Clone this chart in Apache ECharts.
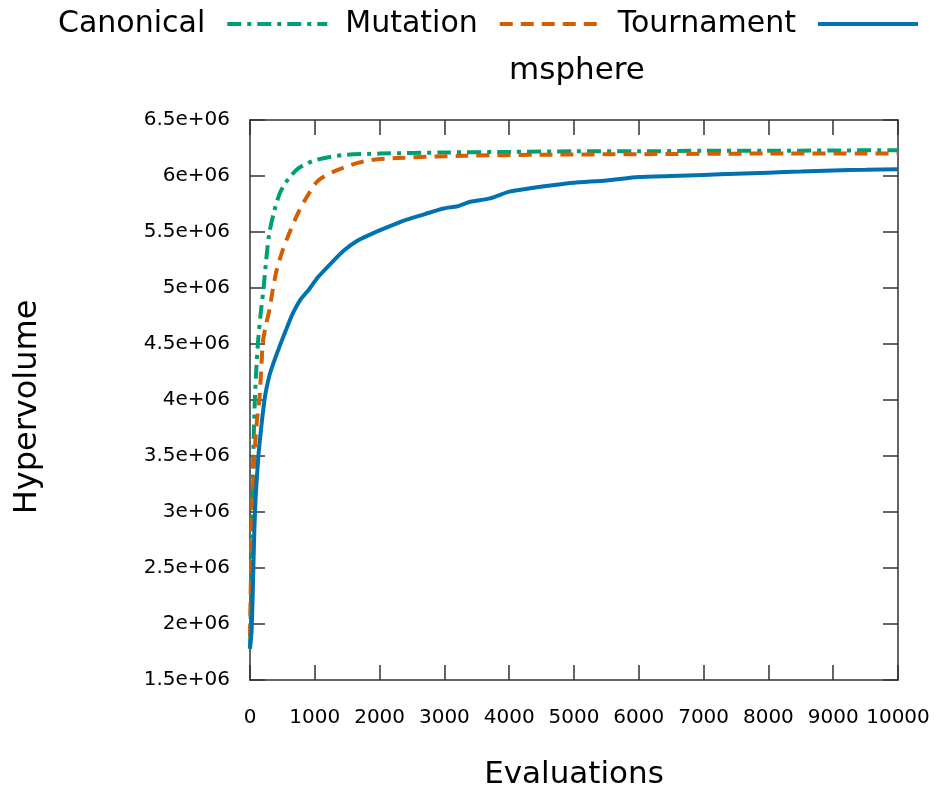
<!DOCTYPE html>
<html>
<head>
<meta charset="utf-8">
<script src="https://cdn.jsdelivr.net/npm/echarts@6/dist/echarts.min.js"></script>
<style>
html,body{margin:0;padding:0;background:#fff;}
#chart{width:937px;height:788px;}
</style>
</head>
<body>
<div id="chart"></div>
<script>
// ---- data ----
const seriesNames = ['Canonical', 'Mutation', 'Tournament'];
const chartTitle = 'msphere';
const xTickValues = [0,1000,2000,3000,4000,5000,6000,7000,8000,9000,10000];
const yTickValues = [1.5e6,2e6,2.5e6,3e6,3.5e6,4e6,4.5e6,5e6,5.5e6,6e6,6.5e6];
const yTickLabels = ['1.5e+06','2e+06','2.5e+06','3e+06','3.5e+06','4e+06','4.5e+06','5e+06','5.5e+06','6e+06','6.5e+06'];

const canonicalEvals = [0,25,40,50,75,100,128,170,206,250,298,380,463,550,643,750,875,1000,1235,1500,2006,3000,4000,5000,6000,7000,8000,9000,10000];
const canonicalHV = [1.78e6,2.48e6,2.99e6,3.49e6,4.0e6,4.3e6,4.55e6,4.8e6,4.98e6,5.25e6,5.49e6,5.7e6,5.85e6,5.94e6,6.01e6,6.07e6,6.11e6,6.14e6,6.17e6,6.19e6,6.2e6,6.21e6,6.215e6,6.22e6,6.22e6,6.225e6,6.225e6,6.228e6,6.23e6];

const mutationEvals = [0,20,41,67,103,144,170,200,250,298,350,412,500,607,750,885,1054,1337,1749,2263,3292,4500,6000,8000,10000];
const mutationHV = [1.89e6,2.6e6,3.14e6,3.49e6,3.79e6,4.0e6,4.24e6,4.52e6,4.68e6,4.8e6,4.98e6,5.16e6,5.33e6,5.49e6,5.68e6,5.82e6,5.96e6,6.05e6,6.13e6,6.16e6,6.18e6,6.19e6,6.195e6,6.2e6,6.2e6];

const tournamentEvals = [0,26,51,67,88,128,180,231,300,350,412,490,566,650,772,900,1054,1250,1440,1650,1903,2150,2418,2700,2984,3200,3400,3704,4000,4321,4700,5000,5500,6000,6500,7000,7500,8000,8500,9000,9500,10000];
const tournamentHV = [1.78e6,1.95e6,2.48e6,2.84e6,3.14e6,3.49e6,3.79e6,4.03e6,4.22e6,4.31e6,4.41e6,4.53e6,4.64e6,4.76e6,4.89e6,4.98e6,5.1e6,5.22e6,5.33e6,5.42e6,5.49e6,5.55e6,5.61e6,5.66e6,5.71e6,5.73e6,5.77e6,5.8e6,5.86e6,5.89e6,5.92e6,5.94e6,5.96e6,5.99e6,6.0e6,6.01e6,6.02e6,6.03e6,6.04e6,6.05e6,6.055e6,6.06e6];

// ---- chart ----
const FONT = 'DejaVu Sans';
const frameColor = '#333';
const pair = (xs, ys) => xs.map((x, i) => [x, ys[i]]);

const chart = echarts.init(document.getElementById('chart'), null, {renderer: 'canvas'});

const axisCommon = {
  axisLine: {show: true, onZero: false, lineStyle: {color: frameColor, width: 1.5}},
  axisTick: {show: true, inside: true, length: 15, lineStyle: {color: frameColor, width: 1.5}},
  splitLine: {show: false}
};

const option = {
  animation: false,
  backgroundColor: '#fff',
  title: {
    text: chartTitle,
    left: 572,
    top: 50,
    textAlign: 'center',
    textStyle: {fontFamily: FONT, fontSize: 31, fontWeight: 'normal', color: '#000'}
  },
  legend: {
    data: seriesNames,
    left: 58,
    top: 9,
    width: 1400,
    padding: 0,
    align: 'right',
    itemWidth: 100,
    itemHeight: 14,
    itemGap: 16,
    itemStyle: {color: 'transparent', borderWidth: 0, opacity: 0},
    lineStyle: {width: 4},
    textStyle: {fontFamily: FONT, fontSize: 30, color: '#000', padding: [0, 17, 0, 0]}
  },
  grid: {left: 250, right: 39, top: 120, bottom: 108, containLabel: false, outerBoundsMode: 'none'},
  xAxis: [
    Object.assign({}, axisCommon, {
      type: 'value', position: 'bottom', min: 0, max: 10000, interval: 1000,
      name: 'Evaluations', nameLocation: 'middle', nameGap: 79,
      nameTextStyle: {fontFamily: FONT, fontSize: 31, color: '#000'},
      axisLabel: {
        margin: 28, fontFamily: FONT, fontSize: 20, color: '#000',
        formatter: v => String(xTickValues[xTickValues.indexOf(v)])
      }
    }),
    Object.assign({}, axisCommon, {
      type: 'value', position: 'top', min: 0, max: 10000, interval: 1000,
      axisLabel: {show: false}
    })
  ],
  yAxis: [
    Object.assign({}, axisCommon, {
      type: 'value', position: 'left', min: 1.5e6, max: 6.5e6, interval: 5e5,
      name: 'Hypervolume', nameLocation: 'middle', nameGap: 206,
      nameTextStyle: {fontFamily: FONT, fontSize: 32, color: '#000', padding: [0, 14, 0, 0]},
      axisLabel: {
        margin: 20, fontFamily: FONT, fontSize: 20, color: '#000',
        formatter: v => {
          const i = yTickValues.findIndex(t => Math.abs(t - v) < 1);
          return i >= 0 ? yTickLabels[i] : '';
        }
      }
    }),
    Object.assign({}, axisCommon, {
      type: 'value', position: 'right', min: 1.5e6, max: 6.5e6, interval: 5e5,
      axisLabel: {show: false}
    })
  ],
  series: [
    {
      name: seriesNames[0], type: 'line', xAxisIndex: 0, yAxisIndex: 0,
      data: pair(canonicalEvals, canonicalHV), symbol: 'none', smooth: 0.3,
      itemStyle: {color: '#009e73'},
      lineStyle: {color: '#009e73', width: 4, type: [14, 6, 4, 6]}
    },
    {
      name: seriesNames[1], type: 'line', xAxisIndex: 0, yAxisIndex: 0,
      data: pair(mutationEvals, mutationHV), symbol: 'none', smooth: 0.3,
      itemStyle: {color: '#d55e00'},
      lineStyle: {color: '#d55e00', width: 4, type: [13, 8]}
    },
    {
      name: seriesNames[2], type: 'line', xAxisIndex: 0, yAxisIndex: 0,
      data: pair(tournamentEvals, tournamentHV), symbol: 'none', smooth: 0.2,
      itemStyle: {color: '#0072b2'},
      lineStyle: {color: '#0072b2', width: 4}
    }
  ]
};

chart.setOption(option);
</script>
</body>
</html>
